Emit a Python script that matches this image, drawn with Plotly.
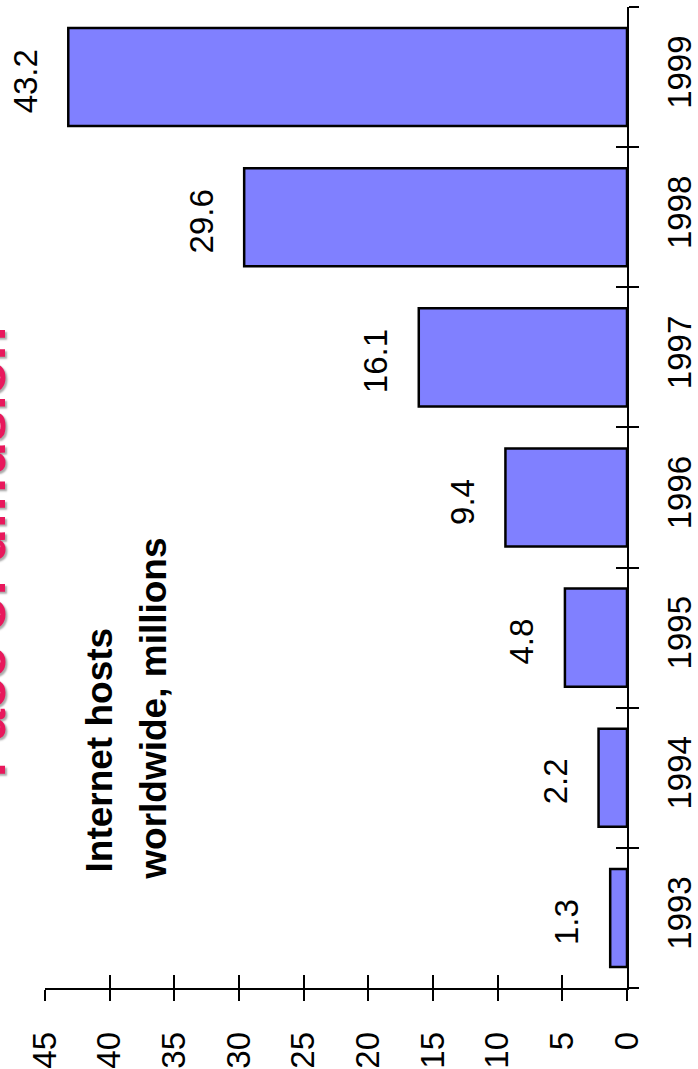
import plotly.graph_objects as go

years = ["1993", "1994", "1995", "1996", "1997", "1998", "1999"]
hosts = [1.3, 2.2, 4.8, 9.4, 16.1, 29.6, 43.2]
value_ticks = [0, 5, 10, 15, 20, 25, 30, 35, 40, 45]
title_text = "Pace of diffusion"
label_line1 = "Internet hosts"
label_line2 = "worldwide, millions"

FONT = "Liberation Sans, Arial, sans-serif"

fig = go.Figure()
fig.add_trace(go.Bar(
    x=hosts, y=years, orientation="h",
    marker=dict(color="#8080FF", line=dict(color="black", width=2.5)),
    width=0.7, hoverinfo="skip", showlegend=False,
))
# empty trace to register the overlay axes (for crossing tick marks)
fig.add_trace(go.Scatter(x=[], y=[], xaxis="x2", yaxis="y2", showlegend=False))

for i, (v, yr) in enumerate(zip(hosts, years)):
    fig.add_annotation(x=v, y=i, xref="x", yref="y", text=f"{v:.1f}",
                       showarrow=False, textangle=-90, xshift=-43, yshift=-4,
                       xanchor="center", yanchor="middle",
                       font=dict(family=FONT, size=33, color="black"))

fig.add_annotation(x=0.0928, y=0.1152, xref="paper", yref="paper", text=label_line1,
                   showarrow=False, textangle=-90, xanchor="center", yanchor="bottom",
                   font=dict(family=FONT, size=37, color="black", weight="bold"))
fig.add_annotation(x=0.185, y=0.108, xref="paper", yref="paper", text=label_line2,
                   showarrow=False, textangle=-90, xanchor="center", yanchor="bottom",
                   font=dict(family=FONT, size=37, color="black", weight="bold"))
fig.add_annotation(x=-0.102, y=0.4445, xref="paper", yref="paper", text=title_text,
                   showarrow=False, textangle=-90, xanchor="center", yanchor="middle",
                   font=dict(family=FONT, size=56, color="#E8185C", weight="bold",
                             shadow="-2px 2px 2px #aaaaaa"))

fig.update_layout(
    width=698, height=1069,
    margin=dict(l=45, r=71, t=7, b=81, autoexpand=False),
    paper_bgcolor="white", plot_bgcolor="white",
    bargap=0.3,
    xaxis=dict(range=[45, 0], tickvals=value_ticks, ticks="outside", ticklen=11,
               tickwidth=1.5, tickcolor="black", showline=True, linecolor="black",
               linewidth=1.5, showgrid=False, zeroline=False, tickangle=-90,
               ticklabelstandoff=18, automargin=False,
               tickfont=dict(family=FONT, size=33, color="black")),
    yaxis=dict(type="category", categoryorder="array", categoryarray=years,
               range=[-0.5, 6.5], side="right", ticks="outside", ticklen=10,
               tickwidth=1.5, tickcolor="black", tickson="boundaries",
               showline=True, linecolor="black", linewidth=1.5, showgrid=False,
               zeroline=False, tickangle=-90, ticklabelstandoff=23, automargin=False,
               tickfont=dict(family=FONT, size=33, color="black")),
    xaxis2=dict(overlaying="x", anchor="y2", side="bottom", range=[45, 0],
                tickvals=value_ticks, ticks="inside", ticklen=13, tickwidth=1.5,
                tickcolor="black", showticklabels=False, showline=False,
                showgrid=False, zeroline=False, automargin=False),
    yaxis2=dict(overlaying="y", anchor="x2", side="right", range=[-0.5, 6.5],
                tickvals=[-0.5, 0.5, 1.5, 2.5, 3.5, 4.5, 5.5, 6.5], ticks="inside",
                ticklen=11, tickwidth=1.5, tickcolor="black", showticklabels=False,
                showline=False, showgrid=False, zeroline=False, automargin=False),
)

fig.write_html("out.html")
